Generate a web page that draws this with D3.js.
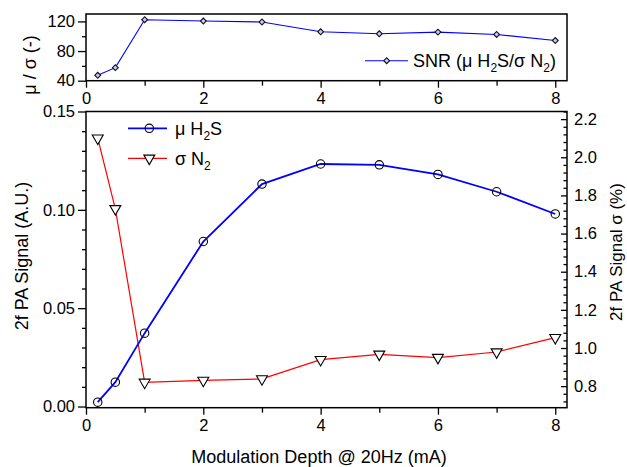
<!DOCTYPE html>
<html>
<head>
<meta charset="utf-8">
<script src="https://cdn.jsdelivr.net/npm/d3@7"></script>
<style>
  body { margin: 0; background: #fff; }
  svg { font-family: "Liberation Sans", Arial, sans-serif; }
</style>
</head>
<body>
<svg id="chart" width="627" height="467"></svg>
<script>
// ---- data ----
const modulationDepth = [0.2, 0.5, 1, 2, 3, 4, 5, 6, 7, 8];
const muH2S = [0.0022, 0.0124, 0.0373, 0.0839, 0.1131, 0.1233, 0.1229, 0.1180, 0.1092, 0.0979];
const sigmaN2 = [2.10, 1.73, 0.82, 0.83, 0.838, 0.939, 0.967, 0.95, 0.979, 1.054];
const snr = [47.3, 57.6, 122.3, 120.5, 119.2, 106.0, 103.3, 105.6, 102.4, 94.2];

const xTicks = [0, 2, 4, 6, 8];
const xMinorTicks = [1, 3, 5, 7];
const yLeftTicks = [0, 0.05, 0.10, 0.15];
const yRightTicks = [0.8, 1.0, 1.2, 1.4, 1.6, 1.8, 2.0, 2.2];
const snrTicks = [40, 80, 120];
const snrMinorTicks = [60, 100];

// ---- layout ----
const svg = d3.select("#chart");
const L = 86, R = 567;
const mainTop = 111.5, mainBot = 407.7;
const topTop = 14, topBot = 80.7;

const x = d3.scaleLinear().domain([0, 8.2]).range([L, R]);
const yL = d3.scaleLinear().domain([-0.0006, 0.15]).range([mainBot, mainTop]);
const yR = d3.scaleLinear().domain([0.687, 2.24]).range([mainBot, mainTop]);
const yS = d3.scaleLinear().domain([40, 130]).range([topBot, topTop]);

const fontTick = "16.5px";
const fontTitle = "18px";

function styleAxis(g) {
  g.select(".domain").remove();
  g.selectAll("line").attr("stroke", "#000").attr("stroke-width", 1.3);
  g.selectAll("text").attr("fill", "#000").style("font-size", fontTick)
    .style("font-family", '"Liberation Sans", Arial, sans-serif');
}

// ---- main panel axes ----
svg.append("g").attr("transform", `translate(0,${mainBot})`)
  .call(d3.axisBottom(x).tickValues(xTicks).tickFormat(d3.format("d")).tickSizeInner(7).tickSizeOuter(0).tickPadding(5))
  .call(styleAxis);
svg.append("g").attr("transform", `translate(0,${mainBot})`)
  .call(d3.axisBottom(x).tickValues(xMinorTicks).tickFormat("").tickSizeInner(5).tickSizeOuter(0))
  .call(styleAxis);
svg.append("g").attr("transform", `translate(${L},0)`)
  .call(d3.axisLeft(yL).tickValues(yLeftTicks).tickFormat(d3.format(".2f")).tickSizeInner(8).tickSizeOuter(0).tickPadding(3))
  .call(styleAxis);
svg.append("g").attr("transform", `translate(${L},0)`)
  .call(d3.axisLeft(yL).tickValues(d3.range(0.01, 0.15, 0.01).filter(v => Math.abs(v*20 - Math.round(v*20)) > 1e-6)).tickFormat("").tickSizeInner(4).tickSizeOuter(0))
  .call(styleAxis);
svg.append("g").attr("transform", `translate(${R},0)`)
  .call(d3.axisRight(yR).tickValues(yRightTicks).tickFormat(d3.format(".1f")).tickSizeInner(-6).tickSizeOuter(0).tickPadding(7))
  .call(styleAxis);
const rightMinor = d3.range(18, 57).map(i => i * 0.04).filter(v => v >= 0.69 && v <= 2.24 && Math.abs(v*5 - Math.round(v*5)) > 1e-6);
svg.append("g").attr("transform", `translate(${R},0)`)
  .call(d3.axisRight(yR).tickValues(rightMinor).tickFormat("").tickSizeInner(-3.5).tickSizeOuter(0))
  .call(styleAxis);

svg.append("rect").attr("x", L).attr("y", mainTop).attr("width", R - L).attr("height", mainBot - mainTop)
  .attr("fill", "none").attr("stroke", "#000").attr("stroke-width", 1.5);

// ---- top panel axes ----
svg.append("g").attr("transform", `translate(0,${topBot})`)
  .call(d3.axisBottom(x).tickValues(xTicks).tickFormat(d3.format("d")).tickSizeInner(7).tickSizeOuter(0).tickPadding(5))
  .call(styleAxis);
svg.append("g").attr("transform", `translate(0,${topBot})`)
  .call(d3.axisBottom(x).tickValues(xMinorTicks).tickFormat("").tickSizeInner(5).tickSizeOuter(0))
  .call(styleAxis);
svg.append("g").attr("transform", `translate(${L},0)`)
  .call(d3.axisLeft(yS).tickValues(snrTicks).tickFormat(d3.format("d")).tickSizeInner(8).tickSizeOuter(0).tickPadding(3))
  .call(styleAxis);
svg.append("g").attr("transform", `translate(${L},0)`)
  .call(d3.axisLeft(yS).tickValues(snrMinorTicks).tickFormat("").tickSizeInner(4).tickSizeOuter(0))
  .call(styleAxis);
svg.append("rect").attr("x", L).attr("y", topTop).attr("width", R - L).attr("height", topBot - topTop)
  .attr("fill", "none").attr("stroke", "#000").attr("stroke-width", 1.5);

// ---- titles ----
svg.append("text").attr("x", 319).attr("y", 463).attr("text-anchor", "middle")
  .style("font-size", fontTitle).text("Modulation Depth @ 20Hz (mA)");
svg.append("text").attr("transform", "translate(28,256) rotate(-90)").attr("text-anchor", "middle")
  .style("font-size", fontTitle).text("2f PA Signal (A.U.)");
svg.append("text").attr("transform", "translate(622,252) rotate(-90)").attr("text-anchor", "middle")
  .style("font-size", "17px").text("2f PA Signal σ (%)");
svg.append("text").attr("transform", "translate(36,65) rotate(-90)").attr("text-anchor", "middle")
  .style("font-size", fontTitle).text("μ / σ (-)");

// ---- series ----
const blue = "#0000ff", red = "#ff0000";
const lineMu = d3.line().x((d, i) => x(modulationDepth[i])).y(d => yL(d));
const lineSig = d3.line().x((d, i) => x(modulationDepth[i])).y(d => yR(d));
const lineSnr = d3.line().x((d, i) => x(modulationDepth[i])).y(d => yS(d));

svg.append("path").datum(sigmaN2).attr("d", lineSig).attr("fill", "none").attr("stroke", red).attr("stroke-width", 1.2);
svg.append("path").datum(muH2S).attr("d", lineMu).attr("fill", "none").attr("stroke", blue).attr("stroke-width", 1.8);
svg.append("path").datum(snr).attr("d", lineSnr).attr("fill", "none").attr("stroke", blue).attr("stroke-width", 1.1);

const tri = d3.symbol().type(d3.symbolTriangle).size(52);
svg.append("g").selectAll("path").data(sigmaN2).join("path")
  .attr("d", tri)
  .attr("transform", (d, i) => `translate(${x(modulationDepth[i])},${yR(d)}) rotate(180)`)
  .attr("fill", "#fff").attr("stroke", "#000").attr("stroke-width", 1.1);
svg.append("g").selectAll("circle").data(muH2S).join("circle")
  .attr("cx", (d, i) => x(modulationDepth[i])).attr("cy", d => yL(d)).attr("r", 4.2)
  .attr("fill", "none").attr("stroke", "#000").attr("stroke-width", 1.1);
const diamond = d3.symbol().type(d3.symbolSquare).size(17);
svg.append("g").selectAll("path").data(snr).join("path")
  .attr("d", diamond)
  .attr("transform", (d, i) => `translate(${x(modulationDepth[i])},${yS(d)}) rotate(45)`)
  .attr("fill", "#c8c8ff").attr("stroke", "#111").attr("stroke-width", 1.1);

// ---- legends ----
function subText(sel, parts) {
  parts.forEach(p => {
    const t = sel.append("tspan").text(p.t);
    if (p.sub) t.attr("dy", 5).style("font-size", "12px");
    if (p.after) t.attr("dy", -5);
  });
}
const lg = svg.append("g");
lg.append("line").attr("x1", 128).attr("x2", 167).attr("y1", 128.3).attr("y2", 128.3).attr("stroke", blue).attr("stroke-width", 1.8);
lg.append("circle").attr("cx", 149.3).attr("cy", 128.3).attr("r", 4.2).attr("fill", "none").attr("stroke", "#000").attr("stroke-width", 1.1);
const t1 = lg.append("text").attr("x", 175).attr("y", 134.5).style("font-size", fontTitle);
subText(t1, [{t: "μ H"}, {t: "2", sub: true}, {t: "S", after: true}]);
lg.append("line").attr("x1", 128).attr("x2", 167).attr("y1", 158.3).attr("y2", 158.3).attr("stroke", red).attr("stroke-width", 1.2);
lg.append("path").attr("d", tri).attr("transform", "translate(149.3,158.3) rotate(180)")
  .attr("fill", "#fff").attr("stroke", "#000").attr("stroke-width", 1.1);
const t2 = lg.append("text").attr("x", 175).attr("y", 164.5).style("font-size", fontTitle);
subText(t2, [{t: "σ N"}, {t: "2", sub: true}]);

const tl = svg.append("g");
tl.append("line").attr("x1", 365).attr("x2", 408).attr("y1", 60.7).attr("y2", 60.7).attr("stroke", blue).attr("stroke-width", 1.1);
tl.append("path").attr("d", diamond).attr("transform", "translate(386.7,60.7) rotate(45)")
  .attr("fill", "#c8c8ff").attr("stroke", "#111").attr("stroke-width", 1.1);
const t3 = tl.append("text").attr("x", 413).attr("y", 66.7).style("font-size", fontTitle);
subText(t3, [{t: "SNR (μ H"}, {t: "2", sub: true}, {t: "S/σ N", after: true}, {t: "2", sub: true}, {t: ")", after: true}]);
</script>
</body>
</html>
